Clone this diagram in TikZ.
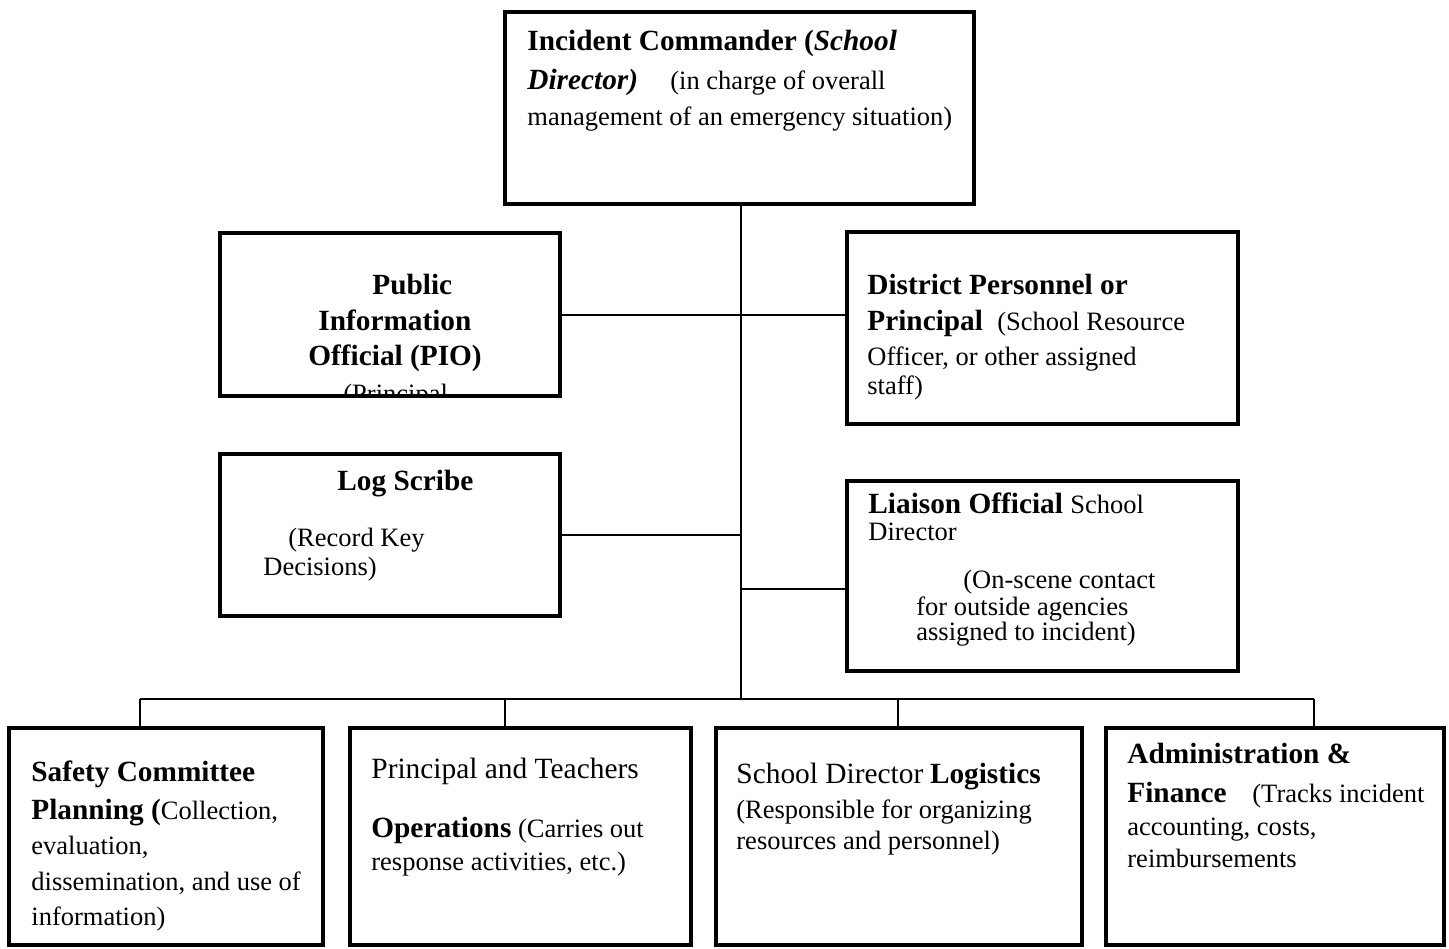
\documentclass[tikz,border=0pt]{standalone}
\usepackage{fontspec}
\setmainfont{Liberation Serif}
\usetikzlibrary{fit}
\newcommand\Bf[1]{{\fontsize{14.65}{17}\selectfont\bfseries #1}}
\newcommand\BIf[1]{{\fontsize{14.65}{17}\selectfont\bfseries\itshape #1}}
\newcommand\Lg[1]{{\fontsize{14.7}{17}\selectfont #1}}
\begin{document}
\begin{tikzpicture}[x=0.5pt,y=-0.5pt,
  box/.style={draw, line width=1.65pt, inner sep=0pt},
  link/.style={line width=1pt},
  txt/.style={anchor=base west, inner sep=0pt, font=\fontsize{13.25}{16}\selectfont}]
\useasboundingbox (0,0) rectangle (1449,948);

% boxes
\node[box, fit={(505,12) (974,204)}] (ic) {};
\node[box, fit={(220,233) (560,396)}] (pio) {};
\node[box, fit={(847,232) (1238,424)}] (dp) {};
\node[box, fit={(220,454) (560,616)}] (log) {};
\node[box, fit={(847,481) (1238,671)}] (lia) {};
\node[box, fit={(9,728) (323,945)}] (b1) {};
\node[box, fit={(350,728) (691,945)}] (b2) {};
\node[box, fit={(716,728) (1082,945)}] (b3) {};
\node[box, fit={(1106,728) (1444,945)}] (b4) {};

% connectors
\coordinate (hub) at (741,699);
\coordinate (lj) at (741,589);
\coordinate (d1) at (140,699);
\coordinate (d2) at (505,699);
\coordinate (d3) at (898,699);
\coordinate (d4) at (1314,699);
\draw[link] (hub |- ic.south) -- (hub);
\draw[link] (pio.east) -- (pio.east -| dp.west);
\draw[link] (log.east) -- (log.east -| hub);
\draw[link] (lj) -- (lj -| lia.west);
\draw[link] (d1) -- (d4);
\draw[link] (d1) -- (d1 |- b1.north);
\draw[link] (d2) -- (d2 |- b2.north);
\draw[link] (d3) -- (d3 |- b3.north);
\draw[link] (d4) -- (d4 |- b4.north);

% Incident Commander
\node[txt] (ic1) at (527,50) {\Bf{Incident Commander (}\BIf{School}};
\node[txt] (ic2) at (527,89) {\BIf{Director)}};
\node[txt] (ic2b) at (670,89) {(in charge of overall};
\node[txt] (ic3) at (527,125) {management of an emergency situation)};

% PIO
\node[txt] (p1) at (372,294) {\Bf{Public}};
\node[txt] (p2) at (318,330) {\Bf{Information}};
\node[txt] (p3) at (308,365) {\Bf{Official (PIO)}};
\begin{scope}
\clip (221,234) rectangle (559,394);
\node[txt] (p4) at (343,402) {(Principal};
\end{scope}

% District
\node[txt] (dp1) at (867,294) {\Bf{District Personnel or}};
\node[txt] (dp2) at (867,330) {\Bf{Principal}};
\node[txt] (dp2b) at (997,330) {(School Resource};
\node[txt] (dp3) at (867,365) {Officer, or other assigned};
\node[txt] (dp4) at (867,394) {staff)};

% Log Scribe
\node[txt] (l1) at (337,490) {\Bf{Log Scribe}};
\node[txt] (l2) at (288,546) {(Record Key};
\node[txt] (l3) at (263,575) {Decisions)};

% Liaison
\node[txt] (li1) at (868,513) {\Bf{Liaison Official}};
\node[txt] (li1b) at (1070,513) {School};
\node[txt] (li2) at (868,540) {Director};
\node[txt] (li3) at (963,588) {(On-scene contact};
\node[txt] (li4) at (916,615) {for outside agencies};
\node[txt] (li5) at (916,640) {assigned to incident)};

% bottom row
\node[txt] (s1) at (31,781) {\Bf{Safety Committee}};
\node[txt] (s2) at (31,819) {\Bf{Planning (}Collection,};
\node[txt] (s3) at (31,854) {evaluation,};
\node[txt] (s4) at (31,890) {dissemination, and use of};
\node[txt] (s5) at (31,925) {information)};

\node[txt] (o1) at (371,778) {\Lg{Principal and Teachers}};
\node[txt] (o2) at (371,837) {\Bf{Operations} (Carries out};
\node[txt] (o3) at (371,870) {response activities, etc.)};

\node[txt] (g1) at (736,783) {\Lg{School Director} \Bf{Logistics}};
\node[txt] (g2) at (736,818) {(Responsible for organizing};
\node[txt] (g3) at (736,849) {resources and personnel)};

\node[txt] (a1) at (1127,763) {\Bf{Administration \&}};
\node[txt] (a2) at (1127,802) {\Bf{Finance}};
\node[txt] (a2b) at (1252,802) {(Tracks incident};
\node[txt] (a3) at (1127,835) {accounting, costs,};
\node[txt] (a4) at (1127,867) {reimbursements};
\end{tikzpicture}
\end{document}
